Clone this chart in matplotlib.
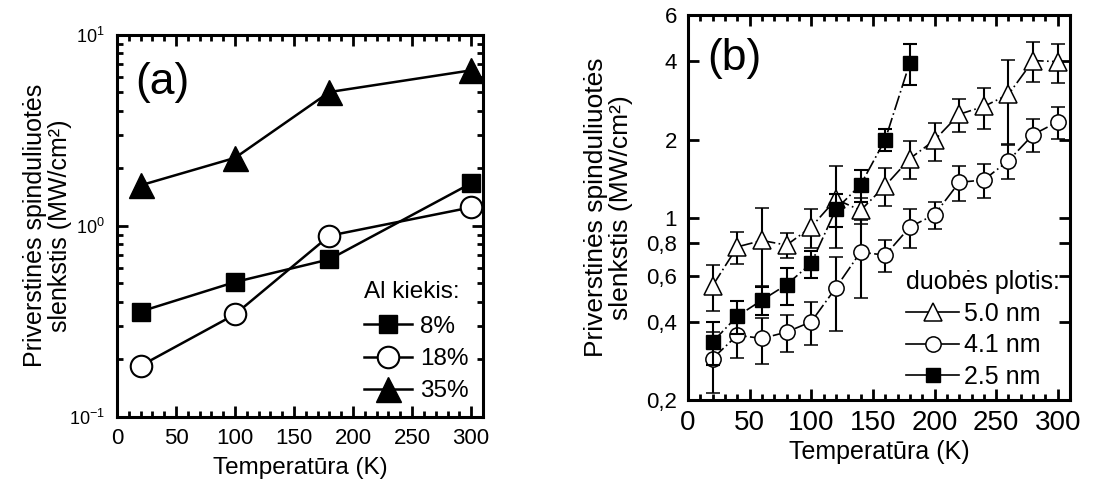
import numpy as np
import matplotlib
matplotlib.use("Agg")
import matplotlib.pyplot as plt
from matplotlib.ticker import FixedLocator, MultipleLocator, LogLocator, NullFormatter, FixedFormatter
from matplotlib.lines import Line2D

plt.rcParams['font.family'] = ['Liberation Sans', 'DejaVu Sans']
plt.rcParams['mathtext.fontset'] = 'custom'
plt.rcParams['mathtext.rm'] = 'Liberation Sans'
plt.rcParams['mathtext.it'] = 'Liberation Sans:italic'

# (a) threshold vs temperature for different Al content
temp_a = [20, 100, 180, 300]
al_8 = [0.356, 0.508, 0.668, 1.67]
al_18 = [0.185, 0.344, 0.888, 1.25]
al_35 = [1.63, 2.27, 5.02, 6.52]
labels_a = ['8%', '18%', '35%']

# (b) threshold vs temperature for different well widths
temp_b = [20, 40, 60, 80, 100, 120, 140, 160, 180, 200, 220, 240, 260, 280, 300]
w50 = [0.55, 0.775, 0.82, 0.787, 0.924, 1.18, 1.07, 1.33, 1.69, 1.99, 2.5, 2.68, 2.98, 4.02, 3.98]
w50_err = [0.11, 0.11, 0.27, 0.087, 0.155, 0.41, 0.12, 0.22, 0.28, 0.33, 0.36, 0.48, 1.05, 0.7, 0.67]
w41 = [0.289, 0.355, 0.345, 0.365, 0.40, 0.54, 0.74, 0.72, 0.924, 1.03, 1.37, 1.40, 1.66, 2.09, 2.34]
w41_err = [0.075, 0.065, 0.07, 0.06, 0.075, 0.17, 0.245, 0.1, 0.16, 0.12, 0.21, 0.21, 0.25, 0.3, 0.33]
temp_b25 = [20, 40, 60, 80, 100, 120, 140, 160, 180]
w25 = [0.335, 0.42, 0.484, 0.555, 0.67, 1.08, 1.34, 2.0, 3.95]
w25_err = [0.063, 0.06, 0.06, 0.09, 0.08, 0.16, 0.19, 0.2, 0.72]
labels_b = ['5.0 nm', '4.1 nm', '2.5 nm']
yticks_b = [0.2, 0.4, 0.6, 0.8, 1, 2, 4, 6]
yticklabels_b = ['0,2', '0,4', '0,6', '0,8', '1', '2', '4', '6']

ylabel = 'Priverstinės spinduliuotės\nslenkstis (MW/cm²)'
xlabel = 'Temperatūra (K)'

fig = plt.figure(figsize=(11.14, 4.91), dpi=100)
ax1 = fig.add_axes([0.105, 0.151, 0.3285, 0.778])
ax2 = fig.add_axes([0.6176, 0.185, 0.3430, 0.784])


def style_axes(ax):
    for s in ax.spines.values():
        s.set_linewidth(2.2)
    ax.tick_params(which='both', direction='in', top=True, right=True, width=2)
    ax.tick_params(which='major', length=8)
    ax.tick_params(which='minor', length=4)


# ---- panel (a)
lw = 1.8
ax1.plot(temp_a, al_8, '-', color='k', lw=lw, marker='s', ms=13, mfc='k', mec='k', label=labels_a[0])
ax1.plot(temp_a, al_18, '-', color='k', lw=lw, marker='o', ms=15.5, mfc='white', mec='k', mew=1.5, label=labels_a[1])
ax1.plot(temp_a, al_35, '-', color='k', lw=lw, marker='^', ms=18, mfc='k', mec='k', label=labels_a[2])
ax1.set_yscale('log')
ax1.set_xlim(0, 310)
ax1.set_ylim(0.1, 10)
ax1.xaxis.set_major_locator(MultipleLocator(50))
ax1.xaxis.set_minor_locator(MultipleLocator(10))
ax1.yaxis.set_minor_locator(LogLocator(base=10, subs=np.arange(2, 10)))
ax1.yaxis.set_minor_formatter(NullFormatter())
style_axes(ax1)
ax1.tick_params(axis='x', which='major', labelsize=16, pad=8)
ax1.tick_params(axis='y', which='major', labelsize=13, pad=9)
ax1.set_xlabel(xlabel, fontsize=17.5, labelpad=6)
ax1.set_ylabel(ylabel, fontsize=18, linespacing=1.05)
ax1.yaxis.set_label_coords(-0.122, 0.5)
ax1.text(0.05, 0.93, '(a)', transform=ax1.transAxes, fontsize=32, va='top', ha='left')
leg1 = ax1.legend(title='Al kiekis:', loc='lower right', bbox_to_anchor=(1.0, 0.0), frameon=False,
                  fontsize=17.5, title_fontsize=17.5, handlelength=2.0, handletextpad=0.3,
                  labelspacing=0.42, borderaxespad=0.2)
leg1._legend_box.align = 'left'
leg1._legend_box.sep = 9

# ---- panel (b)
dash = (0, (9, 2, 1, 2))
eb = dict(color='k', lw=1.2, elinewidth=1.5, capsize=5, capthick=1.5)
ax2.errorbar(temp_b, w50, yerr=w50_err, ls=dash, marker='^', ms=13, mfc='white', mec='k', mew=1.1, zorder=2, **eb)
ax2.errorbar(temp_b, w41, yerr=w41_err, ls=dash, marker='o', ms=11, mfc='white', mec='k', mew=1.1, zorder=3, **eb)
ax2.errorbar(temp_b25, w25, yerr=w25_err, ls=dash, marker='s', ms=9.5, mfc='k', mec='k', zorder=4, **eb)
ax2.set_yscale('log')
ax2.set_xlim(0, 310)
ax2.set_ylim(0.2, 6)
ax2.xaxis.set_major_locator(MultipleLocator(50))
ax2.xaxis.set_minor_locator(MultipleLocator(10))
ax2.yaxis.set_major_locator(FixedLocator(yticks_b))
ax2.yaxis.set_major_formatter(FixedFormatter(yticklabels_b))
ax2.yaxis.set_minor_locator(FixedLocator([]))
style_axes(ax2)
ax2.tick_params(axis='x', which='major', labelsize=20, pad=7)
ax2.tick_params(axis='y', which='major', labelsize=16, pad=8)
ax2.set_xlabel(xlabel, fontsize=18, labelpad=3)
ax2.set_ylabel(ylabel, fontsize=19, linespacing=1.05)
ax2.yaxis.set_label_coords(-0.143, 0.5)
ax2.text(0.05, 0.94, '(b)', transform=ax2.transAxes, fontsize=32, va='top', ha='left')

handles_b = [
    Line2D([], [], color='k', lw=1.2, marker='^', ms=13, mfc='white', mec='k', mew=1.1),
    Line2D([], [], color='k', lw=1.2, marker='o', ms=11, mfc='white', mec='k', mew=1.1),
    Line2D([], [], color='k', lw=1.2, marker='s', ms=9.5, mfc='k', mec='k'),
]
leg2 = ax2.legend(handles_b, labels_b, title='duobės plotis:', loc='lower right', bbox_to_anchor=(1.03, -0.026),
                  frameon=False, fontsize=18, title_fontsize=18, handlelength=2.1, handletextpad=0.2,
                  labelspacing=0.3, borderaxespad=0.45)
leg2._legend_box.align = 'left'

fig.savefig('out.png', dpi=100)
